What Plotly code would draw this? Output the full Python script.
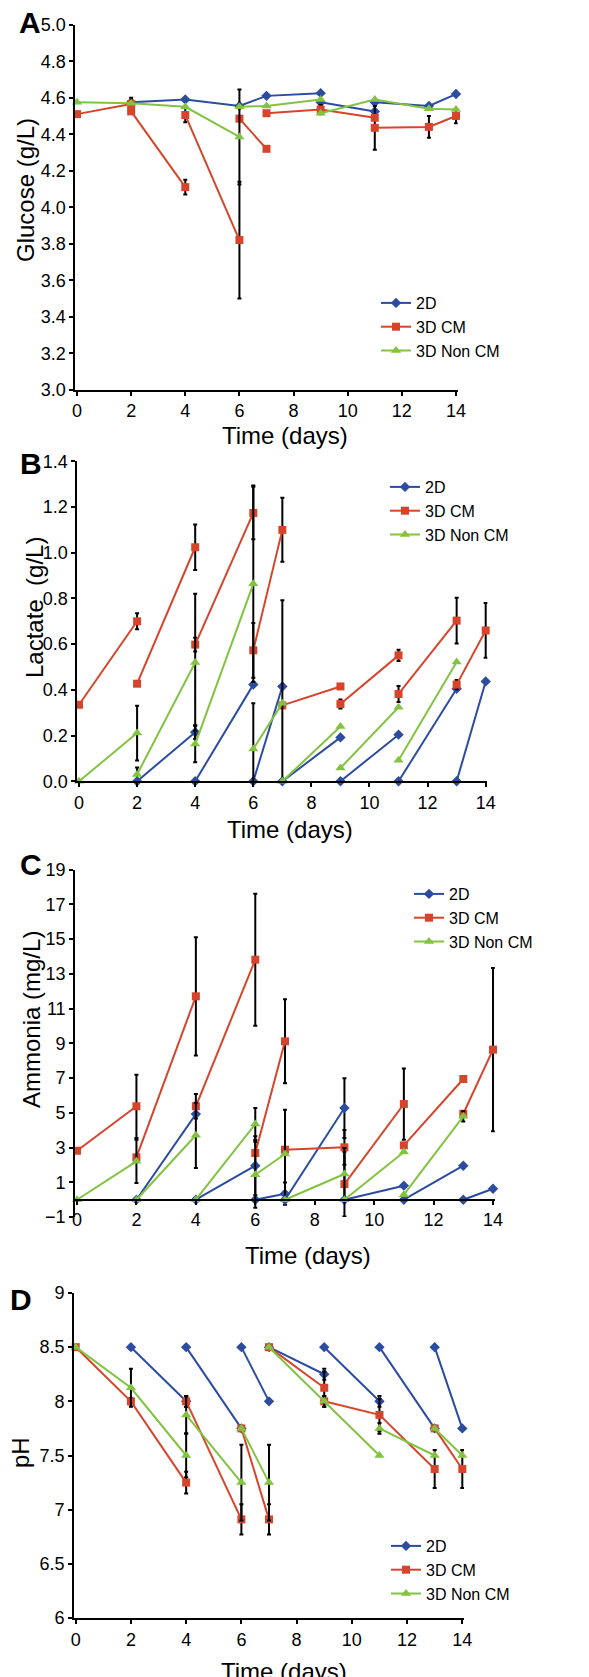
import plotly.graph_objects as go

W, H = 589, 1677

SERIES = ["2D", "3D CM", "3D Non CM"]
COLORS = ["#2B4C9F", "#D6452B", "#82C341"]
SYMBOLS = ["diamond", "square", "triangle-up"]
SIZES = [8, 8, 9]

# ---------------- A: Glucose ----------------
GLU_2D_X = [2, 4, 6, 7, 9, None, 9, 11, None, 11, 13, 14]
GLU_2D_Y = [4.575, 4.59, 4.555, 4.61, 4.625, None, 4.575, 4.525, None, 4.575, 4.555, 4.62]
GLU_2D_E = [None] * 12
GLU_CM_X = [0, 2, None, 2, 4, None, 4, 6, None, 6, 7, None, 7, 9, 11, None, 11, 13, 14]
GLU_CM_Y = [4.51, 4.565, None, 4.525, 4.11, None, 4.505, 3.82, None, 4.485, 4.32, None,
            4.515, 4.535, 4.49, None, 4.435, 4.44, 4.5]
GLU_CM_E = [None, 0.035, None, None, 0.04, None, 0.04, 0.32, None, None, None, None,
            None, 0.025, None, None, 0.12, 0.06, 0.04]
GLU_NCM_X = [0, 2, 4, 6, None, 6, 7, 9, None, 9, 11, 13, 14]
GLU_NCM_Y = [4.575, 4.57, 4.55, 4.385, None, 4.55, 4.555, 4.59, None, 4.515, 4.59, 4.54, 4.535]
GLU_NCM_E = [None, None, None, 0.26, None, None, None, None, None, None, None, None, None]

# ---------------- B: Lactate ----------------
LAC_2D_X = [2, 4, None, 4, 6, None, 6, 7, None, 7, 9, None, 9, 11, None, 11, 13, None, 13, 14]
LAC_2D_Y = [0, 0.215, None, 0, 0.423, None, 0, 0.415, None, 0, 0.192, None, 0, 0.204, None,
            0, 0.405, None, 0, 0.437]
LAC_2D_E = [0.06, 0.03] + [None] * 18
LAC_CM_X = [0, 2, None, 2, 4, None, 4, 6, None, 6, 7, None, 7, 9, None, 9, 11, None, 11, 13,
            None, 13, 14]
LAC_CM_Y = [0.335, 0.70, None, 0.427, 1.024, None, 0.598, 1.174, None, 0.573, 1.10, None,
            0.332, 0.415, None, 0.338, 0.551, None, 0.382, 0.703, None, 0.423, 0.66]
LAC_CM_E = [None, 0.035, None, None, 0.10, None, 0.03, 0.115, None, 0.12, 0.14, None,
            None, None, None, 0.02, 0.025, None, 0.035, 0.10, None, 0.02, 0.12]
LAC_NCM_X = [0, 2, None, 2, 4, None, 4, 6, None, 6, 7, None, 7, 9, None, 9, 11, None, 11, 13]
LAC_NCM_Y = [0, 0.211, None, 0.03, 0.52, None, 0.163, 0.864, None, 0.141, 0.342, None,
             0, 0.24, None, 0.058, 0.324, None, 0.092, 0.522]
LAC_NCM_E = [None, 0.12, None, None, 0.30, None, 0.08, 0.43, None, 0.20, 0.45, None,
             None, None, None, None, None, None, None, None]

# ---------------- C: Ammonia ----------------
AMM_2D_X = [2, 4, None, 4, 6, None, 6, 7, None, 7, 9, None, 9, 11, None, 11, 13, None, 13, 14]
AMM_2D_Y = [0, 4.93, None, 0, 1.96, None, 0, 0.35, None, 0, 5.28, None, 0, 0.81, None,
            0, 1.96, None, 0, 0.63]
AMM_2D_E = [None, None, None, None, 1.7, None, None, 0.64, None, None, 1.72, None,
            None, None, None, None, None, None, None, None]
AMM_CM_X = [0, 2, None, 2, 4, None, 4, 6, None, 6, 7, None, 7, 9, None, 9, 11, None, 11, 13,
            None, 13, 14]
AMM_CM_Y = [2.82, 5.38, None, 2.44, 11.71, None, 5.38, 13.82, None, 2.69, 9.12, None,
            2.88, 3.02, None, 0.90, 5.51, None, 3.13, 6.95, None, 4.95, 8.64]
AMM_CM_E = [None, 1.82, None, None, 3.4, None, 0.7, 3.8, None, None, 2.42, None,
            None, 1.0, None, 1.86, 2.05, None, None, 0.1, None, None, 4.7]
AMM_NCM_X = [0, 2, None, 2, 4, None, 4, 6, None, 6, 7, None, 7, 9, None, 9, 11, None, 11, 13]
AMM_NCM_Y = [0, 2.21, None, 0, 3.71, None, 0, 4.36, None, 1.44, 2.63, None, 0, 1.48, None,
             0, 2.75, None, 0.29, 4.80]
AMM_NCM_E = [None, 1.25, None, None, 1.88, None, None, 0.92, None, 1.9, 2.55, None,
             None, 1.5, None, None, None, None, None, 0.3]

# ---------------- D: pH ----------------
PH_2D_X = [2, 4, None, 4, 6, None, 6, 7, None, 7, 9, None, 9, 11, None, 11, 13, None, 13, 14]
PH_2D_Y = [8.5, 8.0, None, 8.5, 7.75, None, 8.5, 8.0, None, 8.5, 8.25, None, 8.5, 8.0, None,
           8.5, 7.75, None, 8.5, 7.75]
PH_2D_E = [None, 0.05, None, None, None, None, None, None, None, None, 0.05, None,
           None, 0.05, None, None, None, None, None, None]
PH_CM_X = [0, 2, 4, None, 4, 6, None, 6, 7, None, 7, 9, None, 9, 11, 13, None, 13, 14]
PH_CM_Y = [8.5, 8.0, 7.25, None, 8.0, 6.91, None, 7.75, 6.91, None, 8.5, 8.125, None,
           8.0, 7.875, 7.375, None, 7.75, 7.375]
PH_CM_E = [None, 0.03, 0.1, None, 0.05, 0.14, None, None, 0.14, None, None, 0.15, None,
           0.05, 0.15, 0.175, None, None, 0.175]
PH_NCM_X = [0, 2, 4, None, 4, 6, None, 6, 7, None, 7, 9, 11, None, 11, 13, None, 13, 14]
PH_NCM_Y = [8.5, 8.125, 7.5, None, 7.875, 7.25, None, 7.75, 7.25, None, 8.5, 8.0, 7.5, None,
            7.75, 7.5, None, 7.75, 7.5]
PH_NCM_E = [None, 0.175, 0.2, None, 0.17, 0.35, None, None, 0.35, None, None, 0.05, None,
            None, 0.05, None, None, None, None]

X_TICKS = [0, 2, 4, 6, 8, 10, 12, 14]
X_MIN, X_MAX = 0, 14
X_PAD = 0.06   # small pad so end error bars are not clipped

PANELS = [
    dict(letter="A", ytitle="Glucose (g/L)",
         data=[(GLU_2D_X, GLU_2D_Y, GLU_2D_E), (GLU_CM_X, GLU_CM_Y, GLU_CM_E),
               (GLU_NCM_X, GLU_NCM_Y, GLU_NCM_E)],
         yrange=[3, 5], dtick=0.2, tick0=3, fmt=".1f",
         xpx=(69, 448), ypx=(16.7, 381.7), xaxis_at=None,
         letter_pos=(22, 15), ytitle_pos=(18, 182), xtitle_pos=(277, 427),
         legend_pos=(408, 290)),
    dict(letter="B", ytitle="Lactate  (g/L)",
         data=[(LAC_2D_X, LAC_2D_Y, LAC_2D_E), (LAC_CM_X, LAC_CM_Y, LAC_CM_E),
               (LAC_NCM_X, LAC_NCM_Y, LAC_NCM_E)],
         yrange=[0, 1.4], dtick=0.2, tick0=0, fmt=".1f",
         xpx=(71, 477.7), ypx=(453.3, 773.3), xaxis_at=None,
         letter_pos=(23, 455), ytitle_pos=(26, 600), xtitle_pos=(282, 821),
         legend_pos=(417, 474)),
    dict(letter="C", ytitle="Ammonia (mg/L)",
         data=[(AMM_2D_X, AMM_2D_Y, AMM_2D_E), (AMM_CM_X, AMM_CM_Y, AMM_CM_E),
               (AMM_NCM_X, AMM_NCM_Y, AMM_NCM_E)],
         yrange=[-1, 19], dtick=2, tick0=-1, fmt="d",
         xpx=(69, 485), ypx=(861.7, 1209.1), xaxis_at=1191.7,
         letter_pos=(23, 856), ytitle_pos=(23, 1012), xtitle_pos=(300, 1247),
         legend_pos=(441, 881)),
    dict(letter="D", ytitle="pH",
         data=[(PH_2D_X, PH_2D_Y, PH_2D_E), (PH_CM_X, PH_CM_Y, PH_CM_E),
               (PH_NCM_X, PH_NCM_Y, PH_NCM_E)],
         yrange=[6, 9], dtick=0.5, tick0=6, fmt="",
         xpx=(67.7, 454.3), ypx=(1285, 1610), xaxis_at=None,
         letter_pos=(13, 1291), ytitle_pos=(12, 1445), xtitle_pos=(276, 1663),
         legend_pos=(418, 1533)),
]

FONT = "Arial, Liberation Sans, sans-serif"


def px_x(p):
    return p / W


def px_y(p):
    return 1 - p / H


fig = go.Figure()
annotations = []
layout = dict(width=W, height=H, margin=dict(l=0, r=0, t=0, b=0, autoexpand=False),
              paper_bgcolor="white", plot_bgcolor="white",
              font=dict(family=FONT, color="black", size=18))

for i, p in enumerate(PANELS, start=1):
    xa = "x" if i == 1 else f"x{i}"
    ya = "y" if i == 1 else f"y{i}"
    lg = "legend" if i == 1 else f"legend{i}"
    for k, (xs, ys, es) in enumerate(p["data"]):
        fig.add_trace(go.Scatter(
            x=xs, y=ys, mode="lines+markers", name=SERIES[k],
            line=dict(color=COLORS[k], width=2),
            marker=dict(symbol=SYMBOLS[k], size=SIZES[k], color=COLORS[k]),
            error_y=dict(type="data", array=es, visible=True, color="black",
                         thickness=2, width=2),
            xaxis=xa, yaxis=ya, legend=lg, cliponaxis=False, connectgaps=False))
    xkey = "xaxis" if i == 1 else f"xaxis{i}"
    ykey = "yaxis" if i == 1 else f"yaxis{i}"
    x0, x1 = p["xpx"]
    ppd = (x1 - x0) / (X_MAX - X_MIN)
    xd = [px_x(x0 - X_PAD * ppd), px_x(x1 + X_PAD * ppd)]
    yd = [px_y(p["ypx"][1]), px_y(p["ypx"][0])]
    xaxis = dict(domain=xd, range=[X_MIN - X_PAD, X_MAX + X_PAD], tickvals=X_TICKS,
                 showgrid=False, zeroline=False, showline=True, linecolor="black",
                 linewidth=2, ticks="outside", ticklen=4, tickwidth=2,
                 tickcolor="black", tickfont=dict(size=18), fixedrange=True,
                 automargin=False)
    if p["xaxis_at"] is not None:
        xaxis.update(anchor="free", position=px_y(p["xaxis_at"]))
    else:
        xaxis.update(anchor=ya)
    yaxis = dict(domain=yd, range=p["yrange"], dtick=p["dtick"], tick0=p["tick0"],
                 tickformat=p["fmt"], showgrid=False, zeroline=False, showline=True,
                 linecolor="black", linewidth=2, ticks="outside", ticklen=4,
                 tickwidth=2, tickcolor="black", tickfont=dict(size=18),
                 anchor=xa, fixedrange=True, automargin=False)
    layout[xkey] = xaxis
    layout[ykey] = yaxis
    tl, tc = p["legend_pos"]
    layout[lg] = dict(x=px_x(tl - 40), y=px_y(tc - 12), xanchor="left", yanchor="top",
                      bgcolor="rgba(0,0,0,0)", font=dict(size=16), itemwidth=30,
                      tracegroupgap=0)
    lx, ly = p["letter_pos"]
    annotations.append(dict(text=f"<b>{p['letter']}</b>", x=px_x(lx), y=px_y(ly),
                            xref="paper", yref="paper", showarrow=False,
                            xanchor="center", yanchor="middle", font=dict(size=30)))
    tx, ty = p["ytitle_pos"]
    annotations.append(dict(text=p["ytitle"].replace("  ", "&nbsp; "), x=px_x(tx), y=px_y(ty),
                            xref="paper", yref="paper", showarrow=False, textangle=-90,
                            xanchor="center", yanchor="middle", font=dict(size=24)))
    hx, hy = p["xtitle_pos"]
    annotations.append(dict(text="Time (days)", x=px_x(hx), y=px_y(hy),
                            xref="paper", yref="paper", showarrow=False,
                            xanchor="center", yanchor="middle", font=dict(size=24)))

layout["annotations"] = annotations
fig.update_layout(**layout)
fig.write_html("out.html")
